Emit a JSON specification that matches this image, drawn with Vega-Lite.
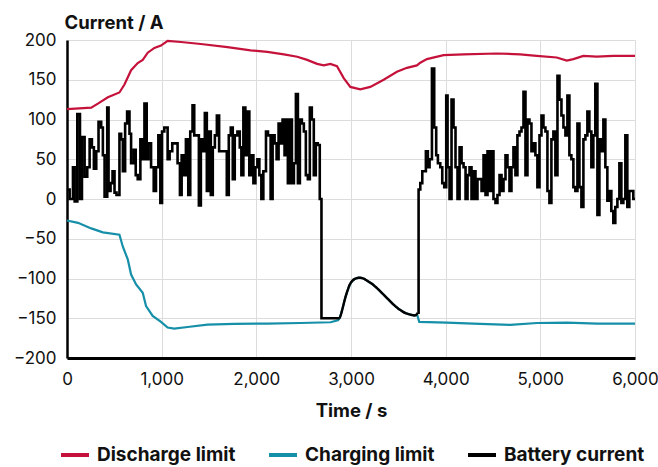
{
  "$schema": "https://vega.github.io/schema/vega-lite/v6.json",
  "autosize": {"type": "none"},
  "width": 568,
  "height": 318,
  "padding": {"left": 67, "top": 40, "right": 23, "bottom": 109},
  "background": "white",
  "config": {
    "font": "Inter",
    "view": {"stroke": null},
    "axis": {
      "labelFont": "Inter",
      "labelFontSize": 17,
      "labelColor": "#111",
      "titleFont": "Inter",
      "titleFontSize": 18.5,
      "titleFontWeight": "bold",
      "titleColor": "#111",
      "gridColor": "#dcdcdc",
      "gridWidth": 1,
      "ticks": false,
      "domainColor": "#000"
    },
    "legend": {
      "labelFont": "Inter",
      "labelFontSize": 19,
      "labelFontWeight": "bold",
      "labelColor": "#111",
      "labelLimit": 300
    }
  },
  "datasets": {
    "discharge": [
      {"t": 0, "v": 113}, {"t": 256, "v": 115}, {"t": 326, "v": 120}, {"t": 432, "v": 128}, {"t": 554, "v": 134},
      {"t": 607, "v": 144}, {"t": 677, "v": 162}, {"t": 747, "v": 171}, {"t": 800, "v": 175}, {"t": 853, "v": 184},
      {"t": 923, "v": 190}, {"t": 993, "v": 193}, {"t": 1063, "v": 199}, {"t": 1204, "v": 197.5}, {"t": 1414, "v": 195},
      {"t": 1695, "v": 191}, {"t": 1940, "v": 187}, {"t": 2116, "v": 185}, {"t": 2291, "v": 182}, {"t": 2432, "v": 179},
      {"t": 2537, "v": 175}, {"t": 2642, "v": 170}, {"t": 2712, "v": 168}, {"t": 2782, "v": 170}, {"t": 2852, "v": 167},
      {"t": 2923, "v": 152}, {"t": 2993, "v": 141}, {"t": 3098, "v": 138}, {"t": 3204, "v": 141}, {"t": 3345, "v": 150},
      {"t": 3485, "v": 160}, {"t": 3591, "v": 165}, {"t": 3696, "v": 168}, {"t": 3732, "v": 171.5}, {"t": 3802, "v": 176},
      {"t": 3978, "v": 181}, {"t": 4189, "v": 182}, {"t": 4540, "v": 183}, {"t": 4787, "v": 182}, {"t": 4962, "v": 180},
      {"t": 5173, "v": 178}, {"t": 5279, "v": 174}, {"t": 5349, "v": 176}, {"t": 5455, "v": 180}, {"t": 5596, "v": 179},
      {"t": 5771, "v": 180}, {"t": 6000, "v": 180}
    ],
    "charging": [
      {"t": 0, "v": -27}, {"t": 116, "v": -30}, {"t": 256, "v": -37}, {"t": 379, "v": -42}, {"t": 554, "v": -45},
      {"t": 590, "v": -60}, {"t": 642, "v": -76}, {"t": 677, "v": -95}, {"t": 730, "v": -107.5}, {"t": 800, "v": -118},
      {"t": 835, "v": -134.6}, {"t": 905, "v": -147}, {"t": 993, "v": -154.6}, {"t": 1063, "v": -161.7}, {"t": 1133, "v": -163},
      {"t": 1274, "v": -161}, {"t": 1484, "v": -158}, {"t": 1765, "v": -157}, {"t": 2116, "v": -156.7}, {"t": 2467, "v": -156},
      {"t": 2783, "v": -155}, {"t": 2862, "v": -152.5}, {"t": 2880, "v": -150}, {"t": 2910, "v": -138}, {"t": 2940, "v": -124},
      {"t": 2970, "v": -113}, {"t": 3000, "v": -105}, {"t": 3040, "v": -100.5}, {"t": 3080, "v": -99}, {"t": 3120, "v": -99.5},
      {"t": 3160, "v": -102}, {"t": 3200, "v": -105}, {"t": 3250, "v": -109.5}, {"t": 3300, "v": -115}, {"t": 3350, "v": -121},
      {"t": 3400, "v": -127}, {"t": 3450, "v": -133}, {"t": 3500, "v": -138}, {"t": 3550, "v": -142}, {"t": 3600, "v": -144.5},
      {"t": 3650, "v": -146}, {"t": 3700, "v": -146}, {"t": 3721, "v": -154.6}, {"t": 4011, "v": -155.5}, {"t": 4364, "v": -157},
      {"t": 4682, "v": -158.4}, {"t": 4965, "v": -156}, {"t": 5283, "v": -155.5}, {"t": 5601, "v": -156.7}, {"t": 6000, "v": -156.7}
    ],
    "battery1": [
      {"t": 0, "v": 12}, {"t": 28, "v": 0}, {"t": 63, "v": 40}, {"t": 81, "v": -3}, {"t": 109, "v": 107},
      {"t": 137, "v": 0}, {"t": 158, "v": 78}, {"t": 186, "v": 28}, {"t": 214, "v": 40}, {"t": 239, "v": 75},
      {"t": 263, "v": 65}, {"t": 284, "v": 38}, {"t": 309, "v": 60}, {"t": 333, "v": 97}, {"t": 361, "v": 90},
      {"t": 379, "v": 55}, {"t": 397, "v": 3}, {"t": 425, "v": 115}, {"t": 439, "v": 10}, {"t": 460, "v": 20},
      {"t": 481, "v": 35}, {"t": 502, "v": 8}, {"t": 523, "v": 5}, {"t": 554, "v": 82}, {"t": 572, "v": 75},
      {"t": 590, "v": 35}, {"t": 614, "v": 95}, {"t": 635, "v": 110}, {"t": 660, "v": 82}, {"t": 677, "v": 45},
      {"t": 705, "v": 62}, {"t": 726, "v": 30}, {"t": 747, "v": 25}, {"t": 775, "v": 75}, {"t": 800, "v": 50},
      {"t": 818, "v": 120}, {"t": 842, "v": 50}, {"t": 860, "v": 70}, {"t": 888, "v": 40}, {"t": 916, "v": 10},
      {"t": 940, "v": 40}, {"t": 965, "v": 80}, {"t": 986, "v": -5}, {"t": 1004, "v": 85}, {"t": 1028, "v": 90},
      {"t": 1063, "v": 50}, {"t": 1084, "v": 60}, {"t": 1112, "v": 70}, {"t": 1168, "v": 45}, {"t": 1193, "v": 5},
      {"t": 1211, "v": 55}, {"t": 1232, "v": 30}, {"t": 1256, "v": 75}, {"t": 1281, "v": 5}, {"t": 1302, "v": 85},
      {"t": 1326, "v": 118}, {"t": 1344, "v": 80}, {"t": 1393, "v": -8}, {"t": 1414, "v": 75}, {"t": 1435, "v": 60},
      {"t": 1456, "v": 108}, {"t": 1477, "v": 10}, {"t": 1498, "v": 85}, {"t": 1519, "v": 5}, {"t": 1540, "v": 65},
      {"t": 1562, "v": 80}, {"t": 1583, "v": 105}, {"t": 1607, "v": 60}, {"t": 1688, "v": 5}, {"t": 1709, "v": 80},
      {"t": 1730, "v": 90}, {"t": 1751, "v": 25}, {"t": 1772, "v": 80}, {"t": 1800, "v": 85}, {"t": 1825, "v": 65},
      {"t": 1842, "v": 30}, {"t": 1863, "v": 115}, {"t": 1884, "v": 55}, {"t": 1905, "v": 110}, {"t": 1926, "v": 30},
      {"t": 1947, "v": 55}, {"t": 1969, "v": 20}, {"t": 1990, "v": 40}, {"t": 2011, "v": 50}, {"t": 2032, "v": 30},
      {"t": 2053, "v": 0}, {"t": 2074, "v": 35}, {"t": 2102, "v": 85}, {"t": 2123, "v": 80}, {"t": 2151, "v": 0},
      {"t": 2172, "v": 80}, {"t": 2193, "v": 70}, {"t": 2214, "v": 50}, {"t": 2235, "v": 95}, {"t": 2256, "v": 70},
      {"t": 2277, "v": 100}, {"t": 2298, "v": 55}, {"t": 2319, "v": 100}, {"t": 2333, "v": 20}, {"t": 2355, "v": 100},
      {"t": 2376, "v": 20}, {"t": 2397, "v": 45}, {"t": 2418, "v": 132}, {"t": 2439, "v": 20}, {"t": 2460, "v": 100},
      {"t": 2481, "v": 95}, {"t": 2502, "v": 85}, {"t": 2523, "v": 30}, {"t": 2544, "v": 25}, {"t": 2565, "v": 115},
      {"t": 2586, "v": 100}, {"t": 2607, "v": 30}, {"t": 2628, "v": 70}, {"t": 2649, "v": 68}, {"t": 2670, "v": 0},
      {"t": 2688, "v": -150}, {"t": 2880, "v": -150}
    ],
    "hump": [
      {"t": 2880, "v": -150}, {"t": 2895, "v": -145}, {"t": 2910, "v": -138}, {"t": 2925, "v": -131},
      {"t": 2940, "v": -124}, {"t": 2955, "v": -118}, {"t": 2970, "v": -113}, {"t": 2985, "v": -108}, {"t": 3000, "v": -105},
      {"t": 3020, "v": -102}, {"t": 3040, "v": -100.5}, {"t": 3060, "v": -99.5}, {"t": 3080, "v": -99}, {"t": 3100, "v": -99},
      {"t": 3120, "v": -99.5}, {"t": 3140, "v": -100.5}, {"t": 3160, "v": -102}, {"t": 3180, "v": -103.5}, {"t": 3200, "v": -105},
      {"t": 3225, "v": -107}, {"t": 3250, "v": -109.5}, {"t": 3275, "v": -112}, {"t": 3300, "v": -115}, {"t": 3325, "v": -118},
      {"t": 3350, "v": -121}, {"t": 3375, "v": -124}, {"t": 3400, "v": -127}, {"t": 3425, "v": -130}, {"t": 3450, "v": -133},
      {"t": 3475, "v": -135.5}, {"t": 3500, "v": -138}, {"t": 3525, "v": -140}, {"t": 3550, "v": -142}, {"t": 3575, "v": -143.5},
      {"t": 3600, "v": -144.5}, {"t": 3625, "v": -145.5}, {"t": 3650, "v": -146}, {"t": 3675, "v": -146.5}, {"t": 3695, "v": -145},
      {"t": 3705, "v": -143}
    ],
    "battery2": [
      {"t": 3705, "v": -143}, {"t": 3714, "v": 12}, {"t": 3732, "v": 20}, {"t": 3753, "v": 35}, {"t": 3791, "v": 60},
      {"t": 3812, "v": 40}, {"t": 3830, "v": 50}, {"t": 3855, "v": 164}, {"t": 3879, "v": 90}, {"t": 3900, "v": 55},
      {"t": 3918, "v": 45}, {"t": 3943, "v": 40}, {"t": 3964, "v": 20}, {"t": 3985, "v": 15}, {"t": 4006, "v": 130},
      {"t": 4020, "v": 40}, {"t": 4041, "v": 0}, {"t": 4062, "v": 125}, {"t": 4083, "v": 90}, {"t": 4104, "v": 40},
      {"t": 4125, "v": 0}, {"t": 4147, "v": 65}, {"t": 4168, "v": 45}, {"t": 4189, "v": 40}, {"t": 4210, "v": 0},
      {"t": 4231, "v": 30}, {"t": 4252, "v": 40}, {"t": 4273, "v": 0}, {"t": 4294, "v": 35}, {"t": 4315, "v": 0},
      {"t": 4336, "v": 25}, {"t": 4379, "v": 10}, {"t": 4400, "v": 55}, {"t": 4421, "v": 5}, {"t": 4442, "v": 60},
      {"t": 4463, "v": 10}, {"t": 4484, "v": 60}, {"t": 4505, "v": 0}, {"t": 4526, "v": -5}, {"t": 4547, "v": 5},
      {"t": 4569, "v": 30}, {"t": 4590, "v": 10}, {"t": 4611, "v": 25}, {"t": 4632, "v": 55}, {"t": 4653, "v": 40},
      {"t": 4674, "v": 10}, {"t": 4695, "v": 40}, {"t": 4716, "v": 65}, {"t": 4737, "v": 30}, {"t": 4758, "v": 80},
      {"t": 4780, "v": 85}, {"t": 4801, "v": 90}, {"t": 4822, "v": 135}, {"t": 4843, "v": 30}, {"t": 4864, "v": 100},
      {"t": 4885, "v": 95}, {"t": 4906, "v": 60}, {"t": 4927, "v": 70}, {"t": 4948, "v": 55}, {"t": 4969, "v": 15},
      {"t": 4991, "v": 80}, {"t": 5012, "v": 105}, {"t": 5033, "v": 90}, {"t": 5054, "v": 85}, {"t": 5075, "v": 10},
      {"t": 5096, "v": -5}, {"t": 5117, "v": 75}, {"t": 5138, "v": 85}, {"t": 5159, "v": 30}, {"t": 5181, "v": 155},
      {"t": 5202, "v": 125}, {"t": 5223, "v": 105}, {"t": 5244, "v": 90}, {"t": 5265, "v": 80}, {"t": 5286, "v": 130},
      {"t": 5307, "v": 55}, {"t": 5328, "v": 50}, {"t": 5349, "v": 15}, {"t": 5370, "v": 10}, {"t": 5392, "v": 95},
      {"t": 5413, "v": 15}, {"t": 5434, "v": -10}, {"t": 5455, "v": 75}, {"t": 5476, "v": 80}, {"t": 5497, "v": 110},
      {"t": 5518, "v": 85}, {"t": 5539, "v": 40}, {"t": 5560, "v": 80}, {"t": 5581, "v": 145}, {"t": 5603, "v": -20},
      {"t": 5624, "v": 75}, {"t": 5645, "v": 60}, {"t": 5666, "v": 100}, {"t": 5687, "v": 40}, {"t": 5708, "v": -2},
      {"t": 5729, "v": 10}, {"t": 5750, "v": -15}, {"t": 5771, "v": -30}, {"t": 5792, "v": -10}, {"t": 5814, "v": 0},
      {"t": 5835, "v": 45}, {"t": 5856, "v": -5}, {"t": 5877, "v": 0}, {"t": 5898, "v": 80}, {"t": 5919, "v": -10},
      {"t": 5940, "v": 10}, {"t": 5961, "v": 10}, {"t": 5982, "v": 0}, {"t": 6000, "v": 0}
    ]
  },
  "encoding": {
    "x": {
      "field": "t", "type": "quantitative",
      "scale": {"domain": [0, 6000], "nice": false},
      "axis": {"title": "Time / s", "values": [0, 1000, 2000, 3000, 4000, 5000, 6000], "format": ",.0f", "domainWidth": 3, "labelPadding": 13, "titlePadding": 14, "labelFlush": false}
    },
    "y": {
      "field": "v", "type": "quantitative",
      "scale": {"domain": [-200, 200], "nice": false},
      "axis": {"title": "Current / A", "values": [-200, -150, -100, -50, 0, 50, 100, 150, 200], "domainWidth": 2.5, "labelPadding": 11,
        "titleAngle": 0, "titleAlign": "left", "titleBaseline": "alphabetic", "titleX": -3, "titleY": -12}
    },
    "color": {
      "scale": {"domain": ["Discharge limit", "Charging limit", "Battery current"], "range": ["#C4123B", "#168FA8", "#000000"]},
      "legend": {"title": null, "orient": "none", "direction": "horizontal", "legendX": -8, "legendY": 399,
        "symbolType": "stroke", "symbolStrokeWidth": 4, "symbolSize": 784, "labelOffset": 6, "columnPadding": 25}
    }
  },
  "layer": [
    {"data": {"name": "discharge"}, "mark": {"type": "line", "strokeWidth": 2.2}, "encoding": {"color": {"datum": "Discharge limit"}}},
    {"data": {"name": "charging"}, "mark": {"type": "line", "strokeWidth": 2.2}, "encoding": {"color": {"datum": "Charging limit"}}},
    {"data": {"name": "battery1"}, "mark": {"type": "line", "strokeWidth": 2.6, "interpolate": "step-after"}, "encoding": {"color": {"datum": "Battery current"}}},
    {"data": {"name": "hump"}, "mark": {"type": "line", "strokeWidth": 2.4, "interpolate": "monotone"}, "encoding": {"color": {"datum": "Battery current"}}},
    {"data": {"name": "battery2"}, "mark": {"type": "line", "strokeWidth": 2.6, "interpolate": "step-after"}, "encoding": {"color": {"datum": "Battery current"}}}
  ]
}
